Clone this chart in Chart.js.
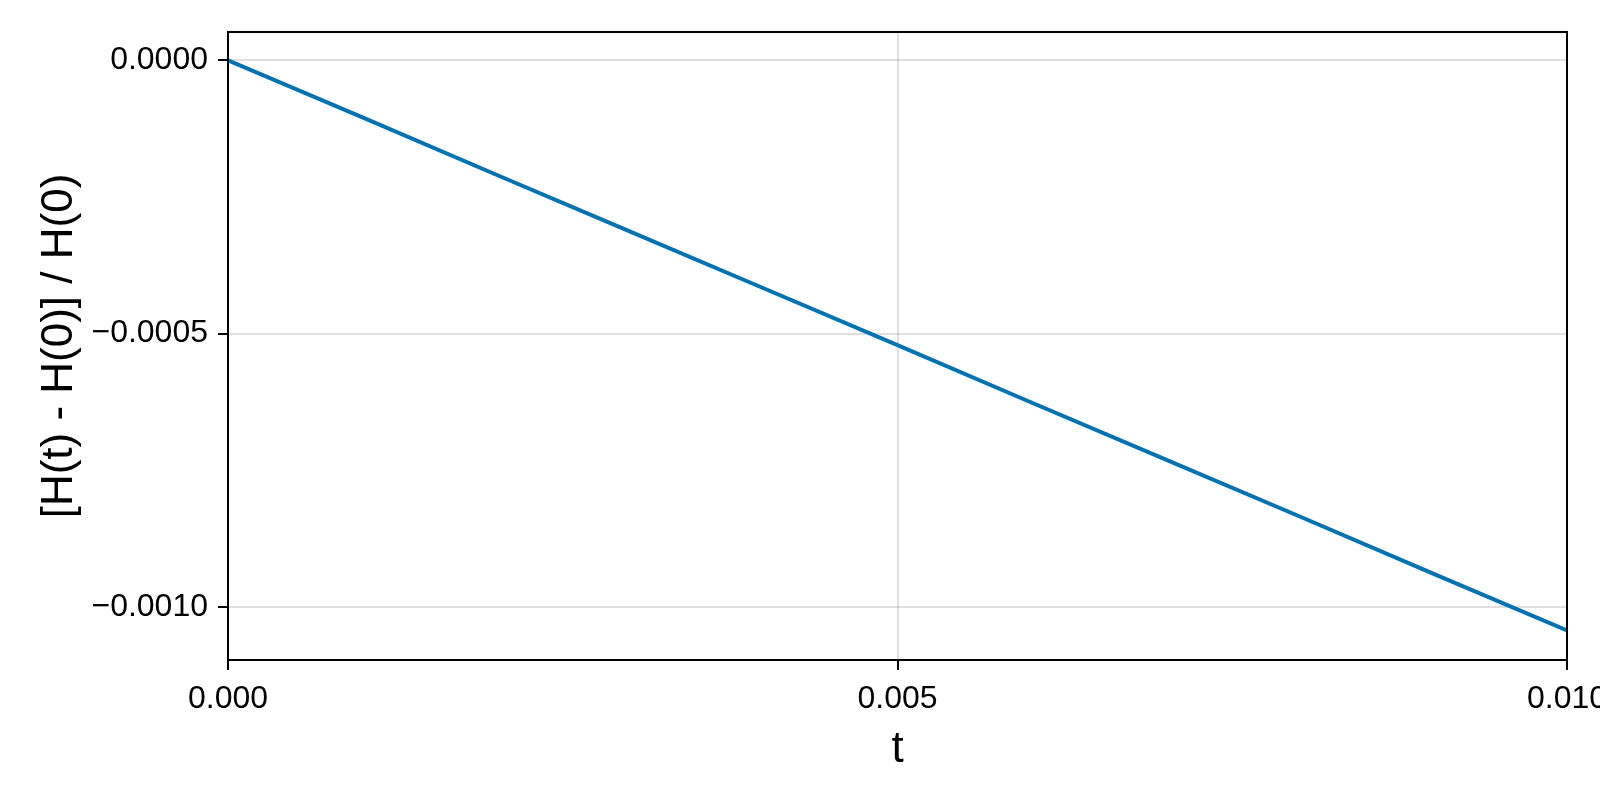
<!DOCTYPE html>
<html>
<head>
<meta charset="utf-8">
<script src="https://cdn.jsdelivr.net/npm/chart.js@4"></script>
<style>
  html, body { margin: 0; padding: 0; background: #fff; }
  #wrap { width: 1600px; height: 800px; }
</style>
</head>
<body>
<div id="wrap"><canvas id="energy-chart" width="1600" height="800"></canvas></div>
<script>
// values
const tValues = [0, 0.001, 0.002, 0.003, 0.004, 0.005, 0.006, 0.007, 0.008, 0.009, 0.010]
const relEnergyError = [0, -0.000104, -0.000209, -0.000313, -0.000417, -0.000521, -0.000626, -0.000730, -0.000834, -0.000939, -0.001043]
const xTicks = [0, 0.005, 0.010]
const yTicks = [0, -0.0005, -0.0010]
const xLimits = [0, 0.010]
const yLimits = [-0.001097, 0.0000517]

const FONT = '"Liberation Sans", Arial, Helvetica, sans-serif'
const fmt = (v, digits) => {
  const s = Math.abs(v).toFixed(digits)
  return v < -1e-12 ? '\u2212' + s : s
}

// Makie-style closed frame around the plot area
const framePlugin = {
  id: 'frame',
  afterDraw: (chart) => {
    const { ctx, chartArea } = chart
    ctx.save()
    ctx.strokeStyle = '#000'
    ctx.lineWidth = 2
    ctx.strokeRect(chartArea.left, chartArea.top, chartArea.right - chartArea.left, chartArea.bottom - chartArea.top)
    ctx.restore()
  }
}

const drawChart = () => {
  const ctx = document.getElementById('energy-chart')
  const options = {
    type: 'line',
    data: {
      datasets: [{
        data: tValues.map((t, i) => ({ x: t, y: relEnergyError[i] })),
        borderColor: '#0072b2',
        borderWidth: 4,
        pointRadius: 0,
        fill: false,
        tension: 0
      }]
    },
    options: {
      responsive: false,
      animation: false,
      devicePixelRatio: 1,
      layout: { padding: { top: 32, right: 33, left: 0, bottom: 0 } },
      plugins: {
        legend: { display: false },
        tooltip: { enabled: false }
      },
      scales: {
        x: {
          type: 'linear',
          min: xLimits[0],
          max: xLimits[1],
          afterBuildTicks: (scale) => { scale.ticks = xTicks.map(v => ({ value: v })) },
          afterFit: (scale) => {
            scale.height = 140
            scale.paddingLeft = 0
            scale.paddingRight = 0
          },
          border: { display: false },
          grid: {
            color: 'rgba(0,0,0,0.12)',
            lineWidth: 2,
            tickColor: '#000',
            tickWidth: 2,
            tickLength: 10
          },
          ticks: {
            autoSkip: false,
            maxRotation: 0,
            padding: 10,
            color: '#000',
            font: { family: FONT, size: 32 },
            callback: (v) => fmt(v, 3)
          },
          title: {
            display: true,
            text: 't',
            color: '#000',
            font: { family: FONT, size: 44 },
            padding: { top: 0, bottom: 24 }
          }
        },
        y: {
          type: 'linear',
          min: yLimits[0],
          max: yLimits[1],
          afterBuildTicks: (scale) => { scale.ticks = yTicks.map(v => ({ value: v })) },
          afterFit: (scale) => {
            scale.width = 228
            scale.paddingTop = 0
            scale.paddingBottom = 0
          },
          border: { display: false },
          grid: {
            color: 'rgba(0,0,0,0.12)',
            lineWidth: 2,
            tickColor: '#000',
            tickWidth: 2,
            tickLength: 10
          },
          ticks: {
            autoSkip: false,
            padding: 10,
            color: '#000',
            font: { family: FONT, size: 32 },
            callback: (v) => fmt(v, 4)
          },
          title: {
            display: true,
            text: '[H(t) - H(0)] / H(0)',
            color: '#000',
            font: { family: FONT, size: 44 },
            padding: { top: 33, bottom: 0 }
          }
        }
      }
    },
    plugins: [framePlugin]
  }

  return new Chart(ctx, options)
}

drawChart()
</script>
</body>
</html>
